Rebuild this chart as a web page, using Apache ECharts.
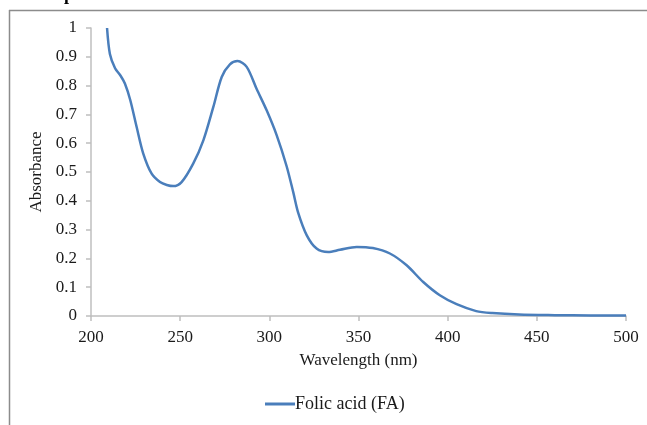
<!DOCTYPE html>
<html>
<head>
<meta charset="utf-8">
<script src="https://cdn.jsdelivr.net/npm/echarts@6/dist/echarts.min.js"></script>
<style>
  html, body { margin: 0; padding: 0; background: #fff; }
  #chart { width: 647px; height: 425px; }
</style>
</head>
<body>
<div id="chart"></div>
<script>
// wavelength (nm) and absorbance
var wavelength = [209, 210.6, 213.5, 216.5, 219, 222, 225.6, 229.3, 234, 238.7, 242.5, 246.1, 250.8, 257.3, 263, 268.6, 273.3, 277.9, 282.2, 287.3, 292.9, 298.5, 304.1, 309.7, 313.4, 316.2, 321, 326.5, 333, 339.6, 349, 358, 367.6, 377, 386.3, 395.6, 405, 416, 425, 440, 460, 480, 500]
var absorbance = [1.0, 0.91, 0.86, 0.835, 0.807, 0.75, 0.656, 0.564, 0.494, 0.465, 0.455, 0.451, 0.465, 0.529, 0.61, 0.726, 0.83, 0.874, 0.885, 0.865, 0.788, 0.714, 0.628, 0.52, 0.43, 0.358, 0.28, 0.234, 0.222, 0.23, 0.24, 0.236, 0.217, 0.176, 0.118, 0.072, 0.041, 0.017, 0.01, 0.005, 0.003, 0.002, 0.002]
var seriesName = 'Folic acid (FA)'

var font = 'Liberation Serif'
var axisGray = '#bfbfbf'

const myChart = echarts.init(document.getElementById('chart'))
myChart.setOption({
  animation: false,
  grid: {
    left: 91,
    top: 28,
    right: 21,
    bottom: 109
  },
  graphic: [
    // frame around the figure (right/bottom edges fall outside the crop)
    { type: 'line', shape: { x1: 9.5, y1: 10, x2: 9.5, y2: 425 }, style: { stroke: '#8c8c8c', lineWidth: 1.5 } },
    { type: 'line', shape: { x1: 9, y1: 10.5, x2: 647, y2: 10.5 }, style: { stroke: '#8c8c8c', lineWidth: 1.5 } },
    // cut-off heading above the frame
    { type: 'text', left: 64, top: -14, style: { text: 'p', font: 'bold 18px "Liberation Serif"', fill: '#000' } }
  ],
  legend: {
    left: 260,
    top: 390,
    icon: 'rect',
    itemWidth: 30,
    itemHeight: 3,
    itemGap: 2,
    textStyle: { fontFamily: font, fontSize: 18, color: '#1a1a1a', padding: [0, 0, 0, -5] },
    data: [seriesName]
  },
  xAxis: {
    type: 'value',
    min: 200,
    max: 500,
    interval: 50,
    name: 'Wavelength (nm)',
    nameLocation: 'middle',
    nameGap: 36,
    nameTextStyle: { fontFamily: font, fontSize: 17, color: '#1a1a1a' },
    axisLine: { lineStyle: { color: axisGray, width: 1.5 } },
    axisTick: { length: 5, lineStyle: { color: axisGray, width: 1.5 } },
    axisLabel: { fontFamily: font, fontSize: 17, color: '#1a1a1a', margin: 13 },
    splitLine: { show: false }
  },
  yAxis: {
    type: 'value',
    min: 0,
    max: 1,
    interval: 0.1,
    name: 'Absorbance',
    nameLocation: 'middle',
    nameGap: 42,
    nameTextStyle: { fontFamily: font, fontSize: 17, color: '#1a1a1a' },
    axisLine: { show: true, lineStyle: { color: axisGray, width: 1.5 } },
    axisTick: { show: true, length: 5, lineStyle: { color: axisGray, width: 1.5 } },
    axisLabel: {
      fontFamily: font,
      fontSize: 17,
      color: '#1a1a1a',
      margin: 14,
      formatter: function (v) { return String(Math.round(v * 10) / 10) }
    },
    splitLine: { show: false }
  },
  series: [
    {
      name: seriesName,
      type: 'line',
      data: wavelength.map((w, i) => [w, absorbance[i]]),
      smooth: 0.3,
      showSymbol: false,
      color: '#4a7ebb',
      lineStyle: { width: 2.5, color: '#4a7ebb' }
    }
  ]
})
</script>
</body>
</html>
